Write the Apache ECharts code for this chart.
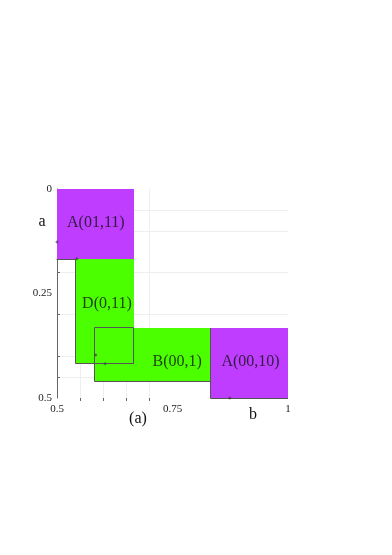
<!DOCTYPE html>
<html>
<head>
<meta charset="utf-8">
<script src="https://cdn.jsdelivr.net/npm/echarts@6/dist/echarts.min.js"></script>
<style>
  html, body { margin: 0; padding: 0; background: #fff; }
  #chart { width: 392px; height: 555px; }
</style>
</head>
<body>
<div id="chart"></div>
<script>
// rectangles, in drawing order: b range, a range
const blockNames = ["A(01,11)", "B(00,1)", "D(0,11)", "A(00,10)"];
const blockB = [[0.5, 0.6667], [0.5833, 0.8333], [0.5417, 0.6667], [0.8333, 1]];
const blockA = [[0, 0.1667], [0.3333, 0.4583], [0.1667, 0.4167], [0.3333, 0.5]];
const blockColors = ["#bf3dff", "#4cff00", "#4cff00", "#bf3dff"];
const labelPos = [[0.584, 0.081], [0.76, 0.414], [0.608, 0.275], [0.919, 0.414]];
// overlap of D and B, outlined
const overlapB = [0.5833, 0.6667];
const overlapA = [0.3333, 0.4167];
const markerPoints = [[0.5, 0.127], [0.543, 0.167], [0.584, 0.397], [0.604, 0.418], [0.874, 0.5]];
const bTicks = [0.55, 0.6, 0.65, 0.7];
const aTicks = [0.05, 0.1, 0.2, 0.3, 0.4, 0.45];
const bLabels = [0.5, 0.75, 1];
const aLabels = [0, 0.25, 0.5];

const serif = "Liberation Serif";
const edgeColor = "#555";
const bMin = 0.5;

const chart = echarts.init(document.getElementById("chart"));

// snapped to whole pixels so the dark edge sits just outside the fill
function rectShape(api) {
  const p0 = api.coord([api.value(0), api.value(2)]);
  const p1 = api.coord([api.value(1), api.value(3)]);
  const x = Math.round(p0[0]), y = Math.round(p0[1]);
  return { x, y, width: Math.round(p1[0]) - x, height: Math.round(p1[1]) - y };
}

chart.setOption({
  animation: false,
  grid: { left: 57, right: 104, top: 189, bottom: 157 },
  xAxis: {
    type: "value",
    min: 0.5,
    max: 1,
    axisLine: { show: false, onZero: false },
    axisTick: { show: true, length: 3, customValues: bTicks, lineStyle: { color: "#666" } },
    axisLabel: { customValues: bLabels, fontFamily: serif, fontSize: 11, color: "#222", margin: 6, formatter: (v) => String(v) },
    splitLine: { show: true, lineStyle: { color: "#eee" } },
  },
  yAxis: {
    type: "value",
    min: 0,
    max: 0.5,
    inverse: true,
    axisLine: { show: true, onZero: false, lineStyle: { color: "#666" } },
    axisTick: { show: true, inside: true, length: 3, customValues: aTicks, lineStyle: { color: "#666" } },
    axisLabel: { customValues: aLabels, fontFamily: serif, fontSize: 11, color: "#222", margin: 5, formatter: (v) => String(v) },
    splitLine: { show: true, lineStyle: { color: "#eee" } },
  },
  series: [
    {
      type: "custom",
      silent: true,
      data: blockNames.map((name, i) => ({
        name,
        value: [blockB[i][0], blockB[i][1], blockA[i][0], blockA[i][1]],
        itemStyle: { color: blockColors[i] },
      })),
      renderItem: (params, api) => {
        const r = rectShape(api);
        const left = r.x - 0.5, bottom = r.y + r.height + 0.5, right = r.x + r.width;
        // no dark left edge where the block sits on the a axis
        const pts = api.value(0) === bMin
          ? [[left, bottom], [right, bottom]]
          : [[left, r.y], [left, bottom], [right, bottom]];
        return {
          type: "group",
          children: [
            { type: "rect", shape: r, style: { fill: api.visual("color") } },
            { type: "polyline", shape: { points: pts }, style: { fill: null, stroke: edgeColor, lineWidth: 1 } },
          ],
        };
      },
    },
    {
      type: "custom",
      silent: true,
      data: [[overlapB[0], overlapB[1], overlapA[0], overlapA[1]]],
      renderItem: (params, api) => {
        const r = rectShape(api);
        return {
          type: "rect",
          shape: { x: r.x - 0.5, y: r.y - 0.5, width: r.width, height: r.height + 1 },
          style: { fill: null, stroke: edgeColor, lineWidth: 1 },
        };
      },
    },
    {
      type: "scatter",
      silent: true,
      symbolSize: 0,
      data: blockNames.map((name, i) => ({ name, value: labelPos[i] })),
      label: {
        show: true,
        position: "inside",
        formatter: (p) => p.name,
        fontFamily: serif,
        fontSize: 16,
        color: "#111",
      },
    },
    {
      type: "scatter",
      silent: true,
      symbol: "path://M0 1h3v1H0z M1 0h1v3H1z",
      symbolSize: 3,
      itemStyle: { color: "#333" },
      data: markerPoints,
    },
  ],
  graphic: [
    { type: "text", x: 42, y: 222, style: { text: "a", font: "16px " + serif, fill: "#111", align: "center", verticalAlign: "middle" } },
    { type: "text", x: 253, y: 415, style: { text: "b", font: "16px " + serif, fill: "#111", align: "center", verticalAlign: "middle" } },
    { type: "text", x: 138, y: 419, style: { text: "(a)", font: "16px " + serif, fill: "#111", align: "center", verticalAlign: "middle" } },
  ],
});
</script>
</body>
</html>
